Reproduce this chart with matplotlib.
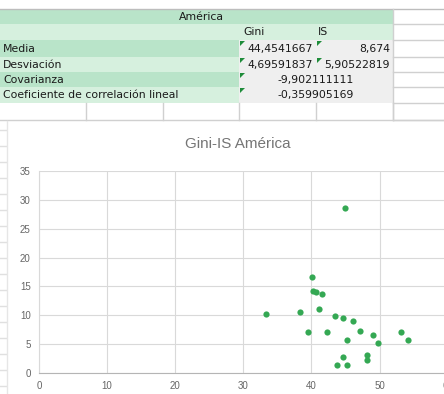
import matplotlib.pyplot as plt
from matplotlib.patches import Rectangle, Polygon

# Datos del gráfico (Gini, IS) - América
gini = [33.3, 38.3, 40.1, 40.3, 40.7, 41.6, 41.1, 39.5, 42.3, 43.4, 44.7, 46.1,
        47.1, 49.1, 49.8, 45.3, 44.7, 43.8, 45.3, 48.1, 48.1, 53.2, 54.2, 45.0]
indice_is = [10.3, 10.6, 16.6, 14.2, 14.0, 13.7, 11.1, 7.1, 7.1, 9.9, 9.5, 9.0,
             7.3, 6.6, 5.2, 5.8, 2.8, 1.4, 1.4, 3.1, 2.3, 7.1, 5.7, 28.6]

# Tabla de estadísticos
filas = ['Media', 'Desviación', 'Covarianza', 'Coeficiente de correlación lineal']
val_gini = ['44,4541667', '4,69591837']
val_is = ['8,674', '5,90522819']
val_comb = ['-9,902111111', '-0,359905169']

W, H = 444, 394
fig = plt.figure(figsize=(W / 100, H / 100), dpi=100)

# Capa de fondo en píxeles (hoja de cálculo)
bg = fig.add_axes([0, 0, 1, 1])
bg.set_xlim(0, W)
bg.set_ylim(H, 0)
bg.axis('off')

verde = '#b9e4c9'
verde_claro = '#d6f0de'
gris = '#efefef'
linea = '#d0d0d0'

# filas: y inicio, y fin
ys = [9, 24, 40, 57, 72, 87, 103, 120]
colores = [verde, verde_claro, verde, verde_claro, verde, verde_claro]
for i in range(6):
    bg.add_patch(Rectangle((0, ys[i]), 393, ys[i + 1] - ys[i], color=colores[i], lw=0))
# celdas de valores en gris
for i in range(2, 6):
    bg.add_patch(Rectangle((239, ys[i]), 154, ys[i + 1] - ys[i], color=gris, lw=0))

# líneas de la hoja
bg.plot([0, W], [9, 9], color='#bdbdbd', lw=1)
for y in ys[1:]:
    bg.plot([393, W], [y, y], color=linea, lw=1)
bg.plot([0, W], [120, 120], color=linea, lw=1)
bg.plot([393, 393], [9, 120], color=linea, lw=1)
for x in [86, 163, 239, 316, 393]:
    bg.plot([x, x], [103, 120], color=linea, lw=1)
for y in range(130, H, 16):
    bg.plot([0, 6], [y, y], color='#e0e0e0', lw=1)
bg.plot([7, 7], [121, H], color='#e6e6e6', lw=1)

fuente_tabla = dict(family='DejaVu Sans', fontsize=7.8, color='#1a1a1a')
bg.text(201, 16.5, 'América', ha='center', va='center', **fuente_tabla)
bg.text(243, 32, 'Gini', ha='left', va='center', **fuente_tabla)
bg.text(318, 32, 'IS', ha='left', va='center', **fuente_tabla)
for i, f in enumerate(filas):
    yc = (ys[i + 2] + ys[i + 3]) / 2
    bg.text(3, yc, f, ha='left', va='center', **fuente_tabla)
    bg.add_patch(Polygon([(240, ys[i + 2] + 1), (245, ys[i + 2] + 1), (240, ys[i + 2] + 6)],
                         color='#1e8c3a', lw=0))
    if i < 2:
        bg.text(313, yc, val_gini[i], ha='right', va='center', **fuente_tabla)
        bg.add_patch(Polygon([(317, ys[i + 2] + 1), (322, ys[i + 2] + 1), (317, ys[i + 2] + 6)],
                             color='#1e8c3a', lw=0))
        bg.text(390, yc, val_is[i], ha='right', va='center', **fuente_tabla)
    else:
        bg.text(316, yc, val_comb[i - 2], ha='center', va='center', **fuente_tabla)

# Área del gráfico
bg.add_patch(Rectangle((8, 121), W - 8, H - 121, color='white', lw=0))
bg.text(238, 144, 'Gini-IS América', ha='center', va='center',
        family='Liberation Sans', fontsize=11, color='#757575')

ax = fig.add_axes([39 / W, (H - 373) / H, (447.6 - 39) / W, (373 - 171) / H])
ax.scatter(gini, indice_is, s=20, color='#34a853', zorder=3, linewidths=0)
ax.set_xlim(0, 60)
ax.set_ylim(0, 35)
ax.set_xticks(range(0, 61, 10))
ax.set_yticks(range(0, 36, 5))
ax.grid(True, color='#d9d9d9', lw=0.8)
ax.set_axisbelow(True)
for s in ['top', 'right']:
    ax.spines[s].set_visible(False)
ax.spines['left'].set_color('#d9d9d9')
ax.spines['bottom'].set_color('#b5b5b5')
ax.tick_params(length=0, labelsize=7, labelcolor='#666666', pad=6)
for lab in ax.get_xticklabels() + ax.get_yticklabels():
    lab.set_family('Liberation Sans')
ax.patch.set_alpha(0)

fig.savefig('out.png', dpi=100)
